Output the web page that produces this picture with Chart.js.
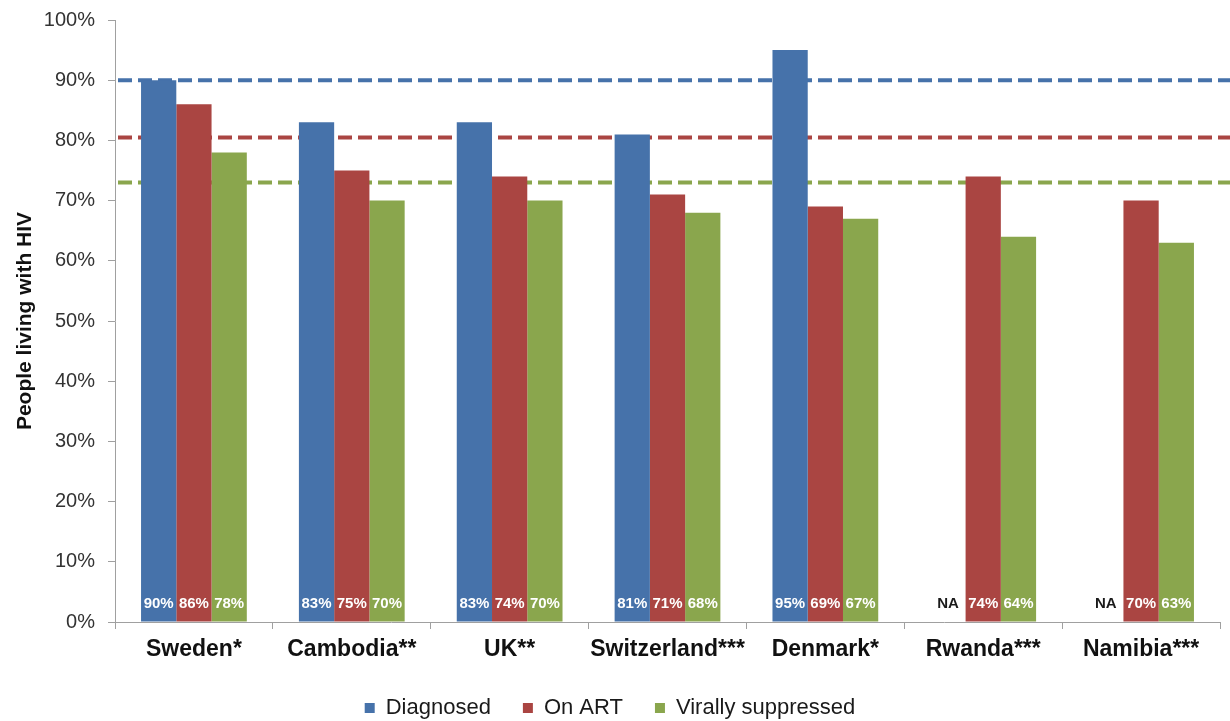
<!DOCTYPE html>
<html>
<head>
<meta charset="utf-8">
<script src="https://cdn.jsdelivr.net/npm/chart.js@4/dist/chart.umd.min.js"></script>
<style>
  html, body { margin: 0; padding: 0; background: #ffffff; }
  #wrap { width: 1230px; height: 721px; position: relative; }
</style>
</head>
<body>
<div id="wrap"><canvas id="c" width="1230" height="721"></canvas></div>
<script>
// Cascade data by country (percent of people living with HIV)
const countries = ['Sweden*', 'Cambodia**', 'UK**', 'Switzerland***', 'Denmark*', 'Rwanda***', 'Namibia***'];
const diagnosed = [90, 83, 83, 81, 95, null, null];
const onArt = [86, 75, 74, 71, 69, 74, 70];
const virallySuppressed = [78, 70, 70, 68, 67, 64, 63];
const seriesNames = ['Diagnosed', 'On ART', 'Virally suppressed'];
const seriesColors = ['#4672AA', '#AA4542', '#8AA64D'];

// Target levels shown as dashed reference lines
const targetLevels = [90, 80.5, 73];

// Y axis tick values
const yTicks = [0, 10, 20, 30, 40, 50, 60, 70, 80, 90, 100];

const FONT = '"Liberation Sans", Arial, Helvetica, sans-serif';

// Dashed target lines drawn behind the bars
const targetLinesPlugin = {
  id: 'targetLines',
  beforeDatasetsDraw(chart) {
    const { ctx, chartArea, scales } = chart;
    ctx.save();
    ctx.lineWidth = 4;
    ctx.setLineDash([14, 6]);
    targetLevels.forEach((v, i) => {
      const y = scales.y.getPixelForValue(v);
      ctx.strokeStyle = seriesColors[i];
      ctx.beginPath();
      ctx.moveTo(chartArea.left + 3, y);
      ctx.lineTo(chart.width, y);
      ctx.stroke();
    });
    ctx.restore();
  }
};

// Value labels at the foot of each bar
const barLabelsPlugin = {
  id: 'barLabels',
  afterDatasetsDraw(chart) {
    const { ctx, scales } = chart;
    const baseY = scales.y.getPixelForValue(0) - 18;
    ctx.save();
    ctx.font = 'bold 15px ' + FONT;
    ctx.textAlign = 'center';
    ctx.textBaseline = 'middle';
    chart.data.datasets.forEach((ds, di) => {
      const meta = chart.getDatasetMeta(di);
      meta.data.forEach((bar, i) => {
        const v = ds.data[i];
        if (v === null || v === undefined) {
          ctx.fillStyle = '#1a1a1a';
          ctx.fillText('NA', bar.x, baseY);
        } else {
          ctx.fillStyle = '#ffffff';
          ctx.fillText(v + '%', bar.x, baseY);
        }
      });
    });
    ctx.restore();
  }
};

const datasets = [diagnosed, onArt, virallySuppressed].map((d, i) => ({
  label: seriesNames[i],
  data: d,
  backgroundColor: seriesColors[i],
  borderWidth: 0,
  categoryPercentage: 0.67,
  barPercentage: 1.0
}));

new Chart(document.getElementById('c'), {
  type: 'bar',
  data: { labels: countries, datasets },
  plugins: [targetLinesPlugin, barLabelsPlugin],
  options: {
    responsive: false,
    animation: false,
    layout: { padding: { top: 20, right: 10, left: 0, bottom: -8 } },
    plugins: {
      tooltip: { enabled: false },
      legend: {
        position: 'bottom',
        labels: {
          font: { family: FONT, size: 22 },
          color: '#1a1a1a',
          boxWidth: 10,
          boxHeight: 10,
          padding: 32
        }
      }
    },
    scales: {
      x: {
        grid: {
          offset: true,
          drawOnChartArea: false,
          drawTicks: true,
          tickLength: 7,
          color: '#a0a0a0'
        },
        border: { display: true, color: '#a0a0a0', width: 1 },
        ticks: {
          font: { family: FONT, size: 23, weight: 'bold' },
          color: '#111111',
          padding: 7,
          maxRotation: 0,
          autoSkip: false
        },
        afterFit(scale) { scale.height = 43; }
      },
      y: {
        min: 0,
        max: 100,
        afterBuildTicks(scale) { scale.ticks = yTicks.map(v => ({ value: v })); },
        ticks: {
          font: { family: FONT, size: 20 },
          color: '#333333',
          padding: 13,
          callback: v => v + '%'
        },
        grid: {
          drawOnChartArea: false,
          drawTicks: true,
          tickLength: 7,
          color: '#a0a0a0'
        },
        border: { display: true, color: '#a0a0a0', width: 1 },
        title: {
          display: true,
          text: 'People living with HIV',
          font: { family: FONT, size: 21, weight: 'bold' },
          color: '#111111',
          padding: { top: 13, bottom: 0 }
        },
        afterFit(scale) {
          scale.width = 115;
          scale.paddingTop = 0;
          scale.paddingBottom = 0;
        }
      }
    }
  }
});
</script>
</body>
</html>
